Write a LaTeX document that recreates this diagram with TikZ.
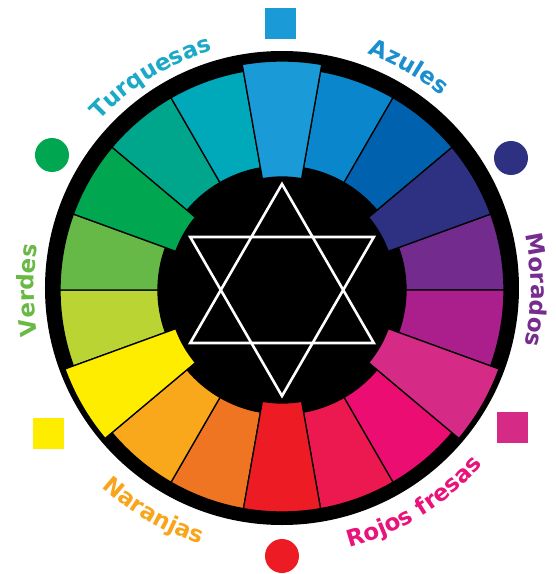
\documentclass[tikz,border=0pt]{standalone}
\usepackage{fontspec}
\setmainfont{DejaVu Sans}
\usetikzlibrary{decorations.text}
\definecolor{cblue}{HTML}{1A9AD7}
\definecolor{cmblue}{HTML}{0A87CC}
\definecolor{cdblue}{HTML}{0062AF}
\definecolor{cindigo}{HTML}{2E3182}
\definecolor{cpurple}{HTML}{742B8E}
\definecolor{cviolet}{HTML}{AB1F8D}
\definecolor{cmagenta}{HTML}{D52B86}
\definecolor{cpink}{HTML}{EC0D73}
\definecolor{ccrimson}{HTML}{EC1951}
\definecolor{cred}{HTML}{ED1C24}
\definecolor{corange}{HTML}{F07522}
\definecolor{cyorange}{HTML}{F9A71B}
\definecolor{cyellow}{HTML}{FFED00}
\definecolor{clime}{HTML}{B9D433}
\definecolor{clgreen}{HTML}{66B947}
\definecolor{cgreen}{HTML}{00A650}
\definecolor{ctgreen}{HTML}{00A68C}
\definecolor{cteal}{HTML}{00A9B9}
\definecolor{lturq}{HTML}{1AA9C6}
\definecolor{lazul}{HTML}{1A8ECF}
\definecolor{lmorad}{HTML}{772D8F}
\definecolor{lverde}{HTML}{6AB945}
\definecolor{lnaran}{HTML}{F8A51C}
\definecolor{lrojo}{HTML}{E8137B}
\newcommand\lblfont{\fontsize{23}{23}\selectfont\bfseries}
\newcommand\wedgepiece[5]{%
  \filldraw[piece, fill=#1] (#2:#4pt) -- (#2:#5pt)
    arc[start angle=#2, end angle=#3, radius=#5pt] -- (#3:#4pt)
    arc[start angle=#3, end angle=#2, radius=#4pt] -- cycle;}
\begin{document}
\begin{tikzpicture}[x=1pt,y=1pt,
  piece/.style={draw=black, line width=1.3pt, line join=miter},
  starline/.style={draw=white, line width=2.6pt, line join=miter},
  sqmark/.style={rectangle, minimum size=31pt, inner sep=0pt, draw=none},
  circmark/.style={circle, minimum size=34pt, inner sep=0pt, draw=none},
  arclabel/.style={decorate, decoration={text along path, text align=center, text color=#1}}]
\useasboundingbox (-282,-284) rectangle (274,290);
\fill[white] (-282,-284) rectangle (274,290);
\fill[black] (0,2) circle[radius=237pt];
% regular pieces
\wedgepiece{cmblue}{60}{80}{124}{222}
\wedgepiece{cdblue}{40}{60}{124}{222}
\wedgepiece{cpurple}{0}{20}{124}{222}
\wedgepiece{cviolet}{-20}{0}{124}{222}
\wedgepiece{cpink}{-60}{-40}{124}{222}
\wedgepiece{ccrimson}{-80}{-60}{124}{222}
\wedgepiece{corange}{-120}{-100}{124}{222}
\wedgepiece{cyorange}{-140}{-120}{124}{222}
\wedgepiece{clime}{180}{200}{124}{222}
\wedgepiece{clgreen}{160}{180}{124}{222}
\wedgepiece{ctgreen}{120}{140}{124}{222}
\wedgepiece{cteal}{100}{120}{124}{222}
% secondary pieces
\wedgepiece{cindigo}{20}{40}{113}{222}
\wedgepiece{cred}{-100}{-80}{113}{222}
\wedgepiece{cgreen}{140}{160}{113}{222}
% primary pieces
\wedgepiece{cblue}{80}{100}{113}{229}
\wedgepiece{cmagenta}{-40}{-20}{113}{231}
\wedgepiece{cyellow}{-160}{-140}{113}{231}
% star
\draw[starline] (90:106pt) -- (210:106pt) -- (330:106pt) -- cycle;
\draw[starline] (270:106pt) -- (30:106pt) -- (150:106pt) -- cycle;
% markers
\node[sqmark, fill=cblue] (mblue) at (-1,267) {};
\node[circmark, fill=cgreen] (mgreen) at (-230,135) {};
\node[circmark, fill=cindigo] (mindigo) at (229,132) {};
\node[sqmark, fill=cyellow] (myellow) at (-233,-143) {};
\node[sqmark, fill=cmagenta] (mmagenta) at (231,-137) {};
\node[circmark, fill=cred] (mred) at (0,-266) {};
% labels
\path[arclabel=lturq, decoration={text={|\lblfont|Turquesas}}]
  (151.6:249pt) arc[start angle=151.6, end angle=91.6, radius=249pt];
\path[arclabel=lazul, decoration={text={|\lblfont|Azules}}]
  (90.4:251pt) arc[start angle=90.4, end angle=30.4, radius=251pt];
\path[arclabel=lmorad, decoration={text={|\lblfont|Morados}}]
  (30:249pt) arc[start angle=30, end angle=-30, radius=249pt];
\path[arclabel=lverde, decoration={text={|\lblfont|Verdes}}]
  (210:248pt) arc[start angle=210, end angle=150, radius=248pt];
\path[arclabel=lnaran, decoration={text={|\lblfont|Naranjas}}]
  (209.9:267pt) arc[start angle=209.9, end angle=269.9, radius=267pt];
\path[arclabel=lrojo, decoration={text={|\lblfont|Rojos fresas}}]
  (271.8:266pt) arc[start angle=271.8, end angle=331.8, radius=266pt];
\end{tikzpicture}
\end{document}
